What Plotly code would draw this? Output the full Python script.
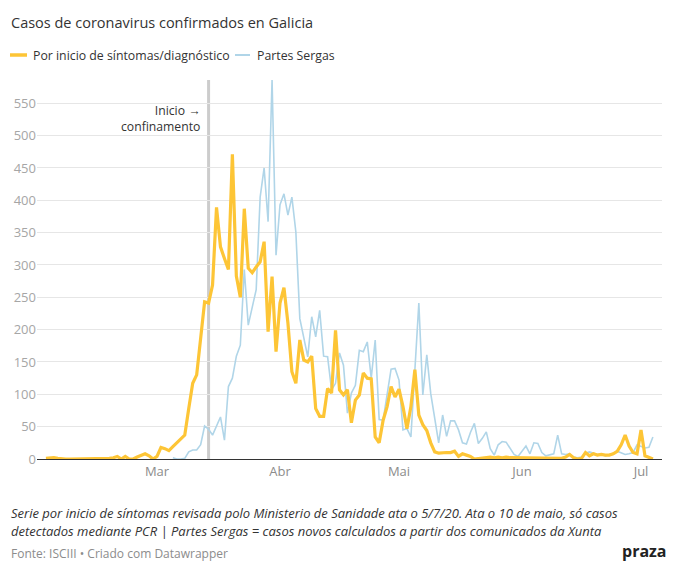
import pandas as pd
import plotly.graph_objects as go

# daily cases, yellow series starts 2 Feb 2020
sintomas_start = "2020-02-02"
sintomas = [
    # Feb 2-29
    1, 2, 2, 1, 0, 0, 0, 0, 0, 0, 0, 0, 0, 0, 0, 1, 1, 2, 4, 0, 4, 0, 0, 3, 5, 8, 5, 0,
    # Mar
    4, 18, 16, 13, 19, 25, 31, 37, 78, 117, 130, 185, 243, 241, 269, 389, 328, 310, 293, 471,
    283, 250, 387, 295, 288, 297, 305, 336, 197, 282, 166,
    # Abr
    241, 265, 210, 135, 117, 184, 153, 150, 159, 78, 66, 66, 109, 102, 199, 107, 99, 107, 56, 91,
    99, 133, 125, 124, 34, 25, 60, 81, 112, 96,
    # Mai
    108, 81, 47, 81, 138, 68, 53, 44, 25, 11, 9, 10, 10, 10, 12, 4, 8, 6, 4, 0,
    1, 1, 2, 3, 2, 3, 2, 3, 2, 2, 1,
    # Jun
    2, 1, 2, 1, 2, 1, 1, 2, 1, 2, 1, 3, 7, 2, 0, 1, 10, 5, 8, 6,
    7, 6, 6, 8, 12, 22, 37, 20, 10, 8,
    # Jul
    45, 5, 3, 0,
]

# Partes Sergas, starts 5 Mar 2020
sergas_start = "2020-03-05"
sergas = [
    # Mar 5-31
    2, 0, 0, 1, 11, 14, 14, 22, 51, 46, 37, 50, 65, 29, 112, 125, 159, 176, 293, 207,
    235, 262, 405, 450, 367, 586, 315,
    # Abr
    393, 410, 377, 405, 351, 217, 189, 158, 220, 189, 230, 159, 158, 107, 117, 164, 145, 71, 102, 114,
    168, 166, 181, 125, 184, 61, 60, 100, 139, 140,
    # Mai
    122, 45, 47, 34, 140, 241, 99, 161, 101, 60, 25, 68, 35, 59, 59, 45, 25, 23, 41, 55,
    24, 32, 42, 16, 6, 22, 27, 26, 17, 7, 4,
    # Jun
    12, 20, 8, 25, 24, 10, 5, 6, 8, 37, 8, 7, 8, 3, 2, 3, 9, 11, 9, 7,
    8, 5, 7, 8, 12, 9, 7, 8, 10, 22,
    # Jul
    20, 17, 18, 34,
]

month_ticks = ["2020-03-01", "2020-04-01", "2020-05-01", "2020-06-01", "2020-07-01"]
month_labels = ["Mar", "Abr", "Mai", "Jun", "Jul"]
y_ticks = list(range(0, 551, 50))
confinamento = "2020-03-14"

YELLOW = "#fdc536"
BLUE = "#b0d5e8"
FONT = "Open Sans"

dates_s = pd.date_range(sintomas_start, periods=len(sintomas), freq="D")
dates_p = pd.date_range(sergas_start, periods=len(sergas), freq="D")

fig = go.Figure()
fig.add_trace(go.Scatter(x=dates_p, y=sergas, mode="lines", name="Partes Sergas",
                         line=dict(color=BLUE, width=1.6)))
fig.add_trace(go.Scatter(x=dates_s, y=sintomas, mode="lines",
                         name="Por inicio de síntomas/diagnóstico",
                         line=dict(color=YELLOW, width=3.2)))

# vertical marker for the lockdown
fig.add_shape(type="line", x0=confinamento, x1=confinamento, xref="x",
              y0=0, y1=1, yref="paper", line=dict(color="#cccccc", width=3), layer="below")
fig.add_annotation(x=confinamento, y=526, xref="x", yref="y", xanchor="right", xshift=-7,
                   text="Inicio →<br>confinamento", showarrow=False, align="right",
                   font=dict(family=FONT, size=12.2, color="#333333"))

# hand-made legend
L, W, B, H = 37, 625, 459, 379
px = lambda v: (v - L) / W
py = lambda v: (B - v) / H
fig.add_shape(type="line", xref="paper", yref="paper", x0=px(10), x1=px(27), y0=py(55), y1=py(55),
              line=dict(color=YELLOW, width=3.5))
fig.add_shape(type="line", xref="paper", yref="paper", x0=px(235), x1=px(250), y0=py(55), y1=py(55),
              line=dict(color=BLUE, width=2))
fig.add_annotation(x=px(31), y=py(55), xref="paper", yref="paper", xanchor="left", yanchor="middle",
                   text="Por inicio de síntomas/diagnóstico", showarrow=False,
                   font=dict(family=FONT, size=12.3, color="#333333"))
fig.add_annotation(x=px(255), y=py(55), xref="paper", yref="paper", xanchor="left", yanchor="middle",
                   text="Partes Sergas", showarrow=False,
                   font=dict(family=FONT, size=12.3, color="#333333"))

# title and footer
fig.add_annotation(x=px(9), y=py(22), xref="paper", yref="paper", xanchor="left", yanchor="middle",
                   text="Casos de coronavirus confirmados en Galicia", showarrow=False,
                   font=dict(family=FONT, size=14.5, color="#333333"))
fig.add_annotation(x=px(9), y=py(513), xref="paper", yref="paper", xanchor="left", yanchor="middle",
                   text="<i>Serie por inicio de síntomas revisada polo Ministerio de Sanidade ata o 5/7/20. "
                        "Ata o 10 de maio, só casos</i>",
                   showarrow=False, font=dict(family=FONT, size=13, color="#333333"))
fig.add_annotation(x=px(9), y=py(531), xref="paper", yref="paper", xanchor="left", yanchor="middle",
                   text="<i>detectados mediante PCR | Partes Sergas = casos novos calculados a partir "
                        "dos comunicados da Xunta</i>",
                   showarrow=False, font=dict(family=FONT, size=13, color="#333333"))
fig.add_annotation(x=px(9), y=py(553), xref="paper", yref="paper", xanchor="left", yanchor="middle",
                   text="Fonte: ISCIII • Criado com Datawrapper", showarrow=False,
                   font=dict(family=FONT, size=12, color="#8c8c8c"))
fig.add_annotation(x=px(669), y=py(551), xref="paper", yref="paper", xanchor="right", yanchor="middle",
                   text="<b>praza</b>", showarrow=False,
                   font=dict(family=FONT, size=16, color="#222222"))

fig.update_layout(
    width=680, height=577,
    margin=dict(l=37, r=18, t=80, b=118),
    paper_bgcolor="white", plot_bgcolor="white",
    showlegend=False,
    font=dict(family=FONT),
)
fig.update_xaxes(type="date", range=["2020-01-30 18:00", "2020-07-06 07:00"],
                 tickvals=month_ticks, ticktext=month_labels,
                 showgrid=False, showline=True, linecolor="#333333", linewidth=1,
                 ticks="", tickfont=dict(family=FONT, size=13, color="#8c8c8c"))
fig.update_yaxes(range=[0, 586], tickvals=y_ticks, showgrid=True, gridcolor="#e6e6e6",
                 zeroline=False, showline=False, ticks="",
                 tickfont=dict(family=FONT, size=13, color="#a6a6a6"))

# drop the default page margin so the chart sits at the window's corner
fig.write_html("out.html", config={"displayModeBar": False},
               post_script="document.body.style.margin='0';")
